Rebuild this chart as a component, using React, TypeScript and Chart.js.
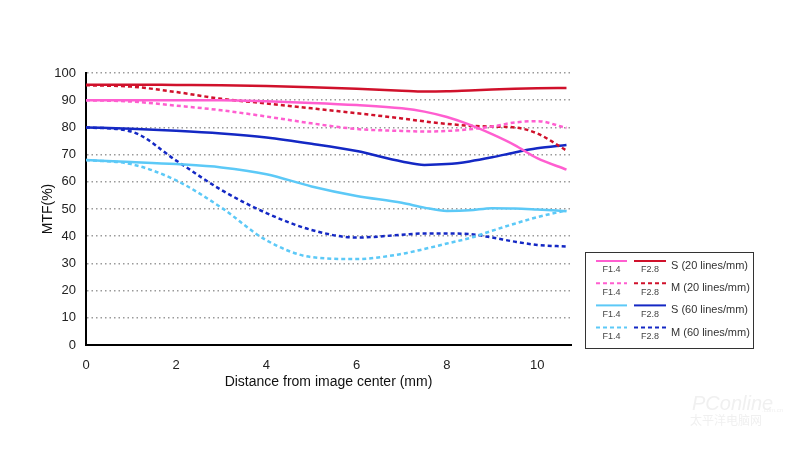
import React, { useEffect, useRef } from "react";
import { Chart, registerables } from "chart.js";

Chart.register(...registerables);

// Distance from image center (mm)
const distances = [0, 1, 2, 3, 4, 5, 6, 7, 7.5, 8, 8.5, 9, 9.5, 10, 10.65];

// MTF values (%)
const s20F14 = [90, 90, 90, 90, 89.6, 89, 88.2, 87, 85.8, 83.8, 81, 77.5, 73.5, 68.7, 64.5];
const s20F28 = [95.7, 95.7, 95.6, 95.5, 95.2, 94.8, 94.2, 93.5, 93.2, 93.3, 93.6, 93.9, 94.2, 94.4, 94.5];
const m20F14 = [90, 89.5, 88, 86.3, 84, 81.5, 79.4, 78.7, 78.5, 78.7, 79.3, 80.3, 81.8, 82.3, 79.8];
const m20F28 = [95.5, 95, 93, 90.5, 88.8, 87, 85.2, 83.3, 82.2, 81.3, 80.6, 80.3, 80, 77.8, 71.5];
const s60F14 = [68, 67.3, 66.5, 65.3, 62.8, 58.3, 54.8, 52.3, 50.5, 49.3, 49.5, 50.3, 50.2, 49.8, 49.2];
const s60F28 = [80, 79.5, 78.8, 77.8, 76.3, 74, 71.3, 67.5, 66.2, 66.5, 67.5, 69, 70.8, 72.3, 73.5];
const m60F14 = [68, 66.5, 60.5, 50.5, 38.5, 32.3, 31.6, 33.5, 35.3, 37.3, 39.3, 42, 44.6, 47, 49.5];
const m60F28 = [80, 78.5, 67.8, 57, 48.5, 42.3, 39.5, 40.5, 41, 41, 40.8, 39.5, 38, 36.8, 36.2];

const yTickValues = [0, 10, 20, 30, 40, 50, 60, 70, 80, 90, 100];
const xTickValues = [0, 2, 4, 6, 8, 10];

const apertureLabels = ["F1.4", "F2.8"];
const seriesLabels = ["S (20 lines/mm)", "M (20 lines/mm)", "S (60 lines/mm)", "M (60 lines/mm)"];

const PINK = "#ff5ed0";
const RED = "#d0112b";
const LIGHT_BLUE = "#5cc9f7";
const DARK_BLUE = "#1428c4";
const DASH = [4, 3];

const FONT = "'Liberation Sans', Arial, sans-serif";

function toPoints(values: number[]) {
  return values.map((v, i) => ({ x: distances[i], y: v }));
}

const datasetDefs = [
  { label: "S20 F1.4", data: s20F14, color: PINK, dash: [] as number[] },
  { label: "S20 F2.8", data: s20F28, color: RED, dash: [] as number[] },
  { label: "M20 F1.4", data: m20F14, color: PINK, dash: DASH },
  { label: "M20 F2.8", data: m20F28, color: RED, dash: DASH },
  { label: "S60 F1.4", data: s60F14, color: LIGHT_BLUE, dash: [] as number[] },
  { label: "S60 F2.8", data: s60F28, color: DARK_BLUE, dash: [] as number[] },
  { label: "M60 F1.4", data: m60F14, color: LIGHT_BLUE, dash: DASH },
  { label: "M60 F2.8", data: m60F28, color: DARK_BLUE, dash: DASH },
];

const legendPlugin = {
  id: "mtfLegend",
  afterDraw(chart: any) {
    const ctx = chart.ctx;
    ctx.save();
    // box
    const bx = 585, by = 252, bw = 168, bh = 96;
    ctx.strokeStyle = "#333";
    ctx.lineWidth = 1;
    ctx.strokeRect(bx + 0.5, by + 0.5, bw, bh);
    const rowH = 22.2;
    for (let r = 0; r < seriesLabels.length; r++) {
      const ly = 261 + r * rowH;
      for (let c = 0; c < 2; c++) {
        const ds = chart.data.datasets[r * 2 + c];
        const x1 = c === 0 ? 596 : 634;
        const x2 = c === 0 ? 627 : 666;
        ctx.beginPath();
        ctx.setLineDash(ds.borderDash || []);
        ctx.strokeStyle = ds.borderColor;
        ctx.lineWidth = 2;
        ctx.moveTo(x1, ly);
        ctx.lineTo(x2, ly);
        ctx.stroke();
        ctx.setLineDash([]);
        ctx.fillStyle = "#444";
        ctx.font = `9px ${FONT}`;
        ctx.textAlign = "center";
        ctx.textBaseline = "middle";
        ctx.fillText(apertureLabels[c], (x1 + x2) / 2, ly + 9);
      }
      ctx.fillStyle = "#333";
      ctx.font = `11px ${FONT}`;
      ctx.textAlign = "left";
      ctx.textBaseline = "middle";
      ctx.fillText(seriesLabels[r], 671, ly + 5);
    }
    // faint watermark
    ctx.fillStyle = "#f0f0f0";
    ctx.font = `italic 20px ${FONT}`;
    ctx.textAlign = "left";
    ctx.textBaseline = "middle";
    ctx.fillText("PConline", 692, 404);
    ctx.font = `6px ${FONT}`;
    ctx.fillText(".com.cn", 762, 410);
    ctx.font = `12px 'Noto Sans CJK SC', sans-serif`;
    ctx.fillText("太平洋电脑网", 690, 420);
    ctx.restore();
  },
};

export default function App() {
  const canvasRef = useRef<HTMLCanvasElement | null>(null);

  useEffect(() => {
    document.body.style.margin = "0";
    document.body.style.background = "#fff";
    const canvas = canvasRef.current;
    if (!canvas) return;
    const chart = new Chart(canvas, {
      type: "line",
      data: {
        datasets: datasetDefs.map((d) => ({
          label: d.label,
          data: toPoints(d.data),
          borderColor: d.color,
          backgroundColor: d.color,
          borderDash: d.dash,
          borderWidth: 2.5,
          pointRadius: 0,
          fill: false,
          cubicInterpolationMode: "monotone" as const,
        })),
      },
      options: {
        responsive: false,
        animation: false,
        devicePixelRatio: 1,
        layout: { padding: { left: 40, right: 229, top: 73, bottom: 60 } },
        plugins: {
          legend: { display: false },
          tooltip: { enabled: false },
        },
        scales: {
          x: {
            type: "linear",
            min: 0,
            max: 10.75,
            grid: { display: false },
            border: { display: true, color: "#000", width: 2 },
            afterBuildTicks: (scale: any) => {
              scale.ticks = xTickValues.map((v) => ({ value: v }));
            },
            afterFit: (scale: any) => {
              scale.height = 46;
            },
            ticks: {
              color: "#222",
              font: { family: FONT, size: 13 },
              padding: 5,
              maxRotation: 0,
            },
            title: {
              display: true,
              text: "Distance from image center (mm)",
              color: "#111",
              font: { family: FONT, size: 14 },
              padding: 0,
            },
          },
          y: {
            type: "linear",
            min: 0,
            max: 100,
            grid: {
              display: true,
              drawTicks: false,
              color: (ctx: any) => (ctx.tick && ctx.tick.value === 0 ? "rgba(0,0,0,0)" : "#9a9a9a"),
              lineWidth: 1.5,
            },
            border: { display: true, color: "#000", width: 2, dash: [1.5, 3] },
            afterBuildTicks: (scale: any) => {
              scale.ticks = yTickValues.map((v) => ({ value: v }));
            },
            afterFit: (scale: any) => {
              scale.width = 46;
            },
            ticks: {
              color: "#222",
              font: { family: FONT, size: 13 },
              padding: 10,
            },
            title: {
              display: true,
              text: "MTF(%)",
              color: "#111",
              font: { family: FONT, size: 14 },
              padding: 0,
            },
          },
        },
      },
      plugins: [legendPlugin],
    });
    return () => chart.destroy();
  }, []);

  return (
    <div style={{ position: "absolute", left: 0, top: 0, width: 800, height: 451, background: "#fff" }}>
      <canvas ref={canvasRef} width={800} height={451} />
    </div>
  );
}
